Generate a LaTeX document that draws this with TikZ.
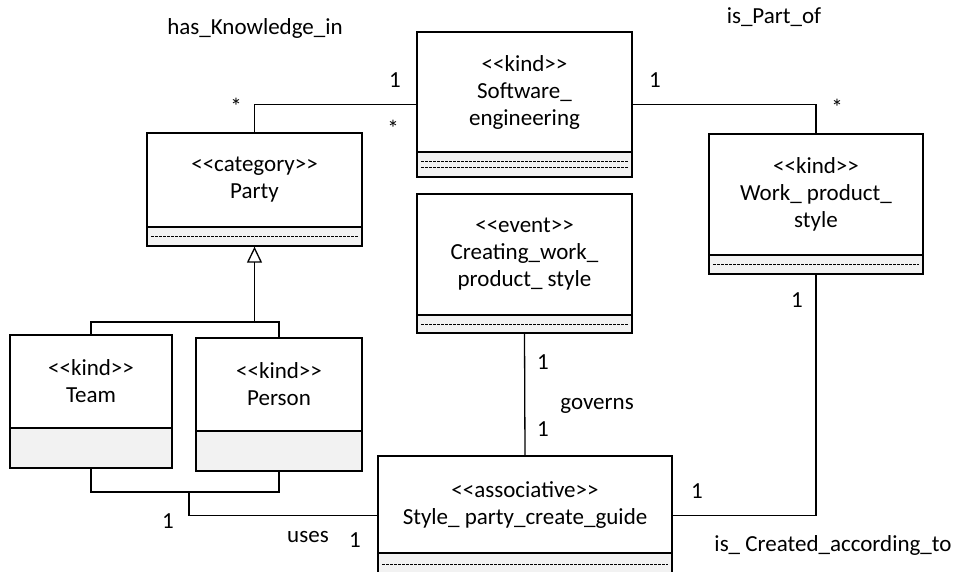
\documentclass[tikz,border=0pt]{standalone}
\usepackage{fontspec}
\setmainfont{Carlito}[Ligatures=TeXOff]
\usetikzlibrary{arrows.meta}
\definecolor{compgray}{HTML}{F2F2F2}
\newcommand\fs{\fontsize{23}{27}\selectfont}
\tikzset{
  cls/.style={draw=black, line width=1.3pt, inner sep=0pt},
  compfill/.style={fill=compgray},
  divline/.style={draw=black, line width=1.3pt},
  ctext/.style={align=center, font=\fs, inner sep=0pt},
  lbl/.style={font=\fs, inner sep=0pt},
  conn/.style={draw=black, line width=1.3pt},
  dashln/.style={draw=black, line width=0.9pt, dash pattern=on 2.6pt off 1.4pt},
  genarrow/.style={conn, -{Triangle[open, length=16pt, width=15pt]}}
}
\begin{document}
\begin{tikzpicture}[x=1pt, y=-1pt]
\useasboundingbox (0,0) rectangle (958,571);
\clip (0,0) rectangle (958,571);

% ---------- Software_engineering ----------
\fill[compfill] (417,152) rectangle (632,177);
\node[cls, minimum width=215pt, minimum height=145pt] (sw) at (524.5,104.5) {};
\draw[divline] (417,152) -- (632,152);
\draw[dashln] (421,161) -- (628,161);
\draw[dashln] (421,167) -- (628,167);
\node[ctext] (swt) at (524.5,92) {<{}<kind>{}>\\Software\_\\engineering};

% ---------- Party ----------
\fill[compfill] (147,227) rectangle (362,246);
\node[cls, minimum width=215pt, minimum height=113pt] (party) at (254.5,189.5) {};
\draw[divline] (147,227) -- (362,227);
\draw[dashln] (151,236.5) -- (358,236.5);
\node[ctext] (partyt) at (254.5,180) {<{}<category>{}>\\Party};

% ---------- Work_product_style ----------
\fill[compfill] (709,255) rectangle (923,274);
\node[cls, minimum width=214pt, minimum height=140pt] (work) at (816,204) {};
\draw[divline] (709,255) -- (923,255);
\draw[dashln] (713,264.5) -- (919,264.5);
\node[ctext] (workt) at (816,194.5) {<{}<kind>{}>\\Work\_ product\_\\style};

% ---------- Creating_work_product_style ----------
\fill[compfill] (417,315) rectangle (632,333);
\node[cls, minimum width=215pt, minimum height=139pt] (creating) at (524.5,263.5) {};
\draw[divline] (417,315) -- (632,315);
\draw[dashln] (421,324) -- (628,324);
\node[ctext] (creatingt) at (524.5,254.5) {<{}<event>{}>\\Creating\_work\_\\product\_ style};

% ---------- Team ----------
\fill[compfill] (10,428) rectangle (172,468);
\node[cls, minimum width=162pt, minimum height=133pt] (team) at (91,401.5) {};
\draw[divline] (10,428) -- (172,428);
\node[ctext] (teamt) at (91,381.5) {<{}<kind>{}>\\Team};

% ---------- Person ----------
\fill[compfill] (196,431) rectangle (362,471);
\node[cls, minimum width=166pt, minimum height=133pt] (person) at (279,404.5) {};
\draw[divline] (196,431) -- (362,431);
\node[ctext] (persont) at (279,384.5) {<{}<kind>{}>\\Person};

% ---------- Style_party_create_guide ----------
\fill[compfill] (378,553) rectangle (672,575);
\node[cls, minimum width=294pt, minimum height=119pt] (style) at (525,515.5) {};
\draw[divline] (378,553) -- (672,553);
\draw[dashln] (382,564) -- (668,564);
\node[ctext] (stylet) at (525,505) {<{}<associative>{}>\\Style\_ party\_create\_guide};

% ---------- connectors ----------
\draw[conn] (party.north) |- (sw.west);
\draw[conn] (sw.east) -| (work.north);
\draw[conn] (creating.south) -- (style.north);
\draw[conn] (work.south) |- (style.east);

\coordinate (tp) at (189,492);
\draw[conn] (team.south) |- (tp) -| (person.south);
\draw[conn] (tp) |- (style.west);

\coordinate (gen) at (254.5,322);
\draw[conn] (team.north) |- (gen) -| (person.north);
\draw[genarrow] (gen) -- (party.south);

% ---------- labels ----------
\node[lbl] (l1) at (255,28) {has\_Knowledge\_in};
\node[lbl] (l2) at (774,17) {is\_Part\_of};
\node[lbl] (m1) at (395,80) {1};
\node[lbl] (m2) at (393,128) {*};
\node[lbl] (m3) at (236,106) {*};
\node[lbl] (m4) at (655,80) {1};
\node[lbl] (m5) at (837,107) {*};
\node[lbl] (m6) at (797,300) {1};
\node[lbl] (m7) at (543,362) {1};
\node[lbl] (l3) at (597,406) {governs};
\node[lbl] (m8) at (543,429) {1};
\node[lbl] (m9) at (697,491) {1};
\node[lbl] (m10) at (168,521) {1};
\node[lbl] (l4) at (308,537) {uses};
\node[lbl] (m11) at (355,540) {1};
\node[lbl] (l5) at (833,545) {is\_ Created\_according\_to};
\end{tikzpicture}
\end{document}
